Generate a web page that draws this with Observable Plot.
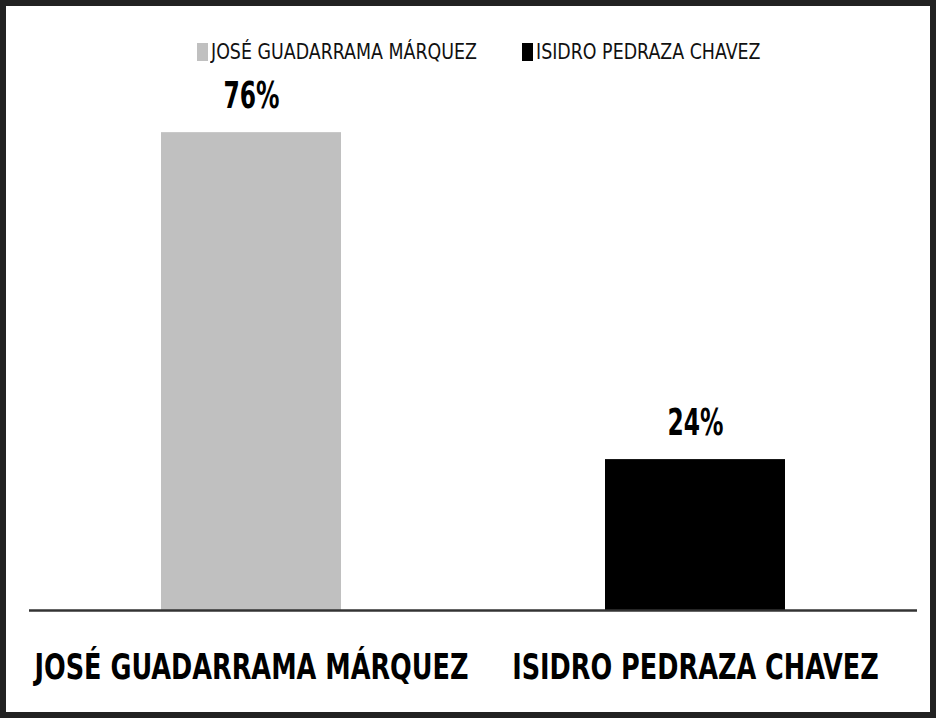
<!DOCTYPE html>
<html>
<head>
<meta charset="utf-8">
<script src="https://cdn.jsdelivr.net/npm/d3@7"></script>
<script src="https://cdn.jsdelivr.net/npm/@observablehq/plot@0.6"></script>
<style>
  html, body { margin: 0; padding: 0; background: #fff; }
  #frame { position: relative; width: 936px; height: 718px; box-sizing: border-box; border: 6px solid #222; background: #fff; overflow: hidden; }
  #legend { position: absolute; left: 191px; top: 34px; display: flex; align-items: center;
            font-family: "Liberation Sans Narrow", "DejaVu Sans Condensed", "DejaVu Sans", sans-serif; font-size: 21px; color: #111; z-index: 2; }
  .item { display: flex; align-items: center; }
  .sw { display: inline-block; width: 11px; height: 18px; margin-right: 3px; }
  .lt { display: inline-block; transform-origin: left center; white-space: nowrap; }
  #chart svg { display: block; }
</style>
</head>
<body>
<div id="frame">
  <div id="legend"></div>
  <div id="chart"></div>
</div>
<script>
const candidates = ["JOSÉ GUADARRAMA MÁRQUEZ", "ISIDRO PEDRAZA CHAVEZ"];
const shares = [76, 24];
const shareLabels = ["76%", "24%"];
const colors = ["#c0c0c0", "#000000"];

const data = candidates.map((c, i) => ({candidate: c, share: shares[i], label: shareLabels[i]}));
const font = '"Liberation Sans Narrow", "DejaVu Sans Condensed", "DejaVu Sans", sans-serif';

// legend
const legend = d3.select("#legend");
candidates.forEach((c, i) => {
  const it = legend.append("div").attr("class", "item").style("margin-right", i === 0 ? "45px" : "0px");
  it.append("span").attr("class", "sw").style("background", colors[i]);
  it.append("span").attr("class", "lt").text(c);
});

const chart = Plot.plot({
  width: 924,
  height: 706,
  marginLeft: 23,
  marginRight: 13,
  marginTop: 101,
  marginBottom: 102,
  style: {background: "white"},
  x: {domain: candidates, paddingInner: 0.595, paddingOuter: 0.2975, axis: null},
  y: {domain: [0, 80], axis: null},
  color: {domain: candidates, range: colors},
  marks: [
    Plot.barY(data, {x: "candidate", y: "share", fill: "candidate"}),
    Plot.ruleY([0], {stroke: "#333", strokeWidth: 2.5}),
    Plot.text(data, {x: "candidate", y: "share", text: "label", lineAnchor: "bottom", dy: -25,
      fontSize: 37, fontWeight: "bold", fontFamily: font, fill: "#000"}),
    Plot.text(data, {x: "candidate", frameAnchor: "bottom", text: "candidate", lineAnchor: "middle", dy: 57,
      fontSize: 35, fontWeight: "bold", fontFamily: font, fill: "#000"})
  ]
});
document.getElementById("chart").appendChild(chart);

// condense text horizontally to match the reference's condensed typeface
const textGroups = chart.querySelectorAll('g[aria-label="text"]');
function condense(group, targetFirst) {
  if (!group) return;
  const nodes = Array.from(group.querySelectorAll("text"));
  if (!nodes.length) return;
  const w0 = nodes[0].getComputedTextLength();
  if (!w0) return;
  const k = targetFirst / w0;
  nodes.forEach(n => {
    const w = n.getComputedTextLength();
    n.setAttribute("textLength", (w * k).toFixed(1));
    n.setAttribute("lengthAdjust", "spacingAndGlyphs");
  });
}
condense(textGroups[0], 56);
condense(textGroups[1], 434);

// legend text width
const lts = document.querySelectorAll("#legend .lt");
const lw0 = lts[0].getBoundingClientRect().width;
const lk = 266 / lw0;
lts.forEach(el => {
  const w = el.getBoundingClientRect().width;
  el.style.transform = `scaleX(${lk})`;
  el.style.marginRight = `${w * (lk - 1)}px`;
});
</script>
</body>
</html>
